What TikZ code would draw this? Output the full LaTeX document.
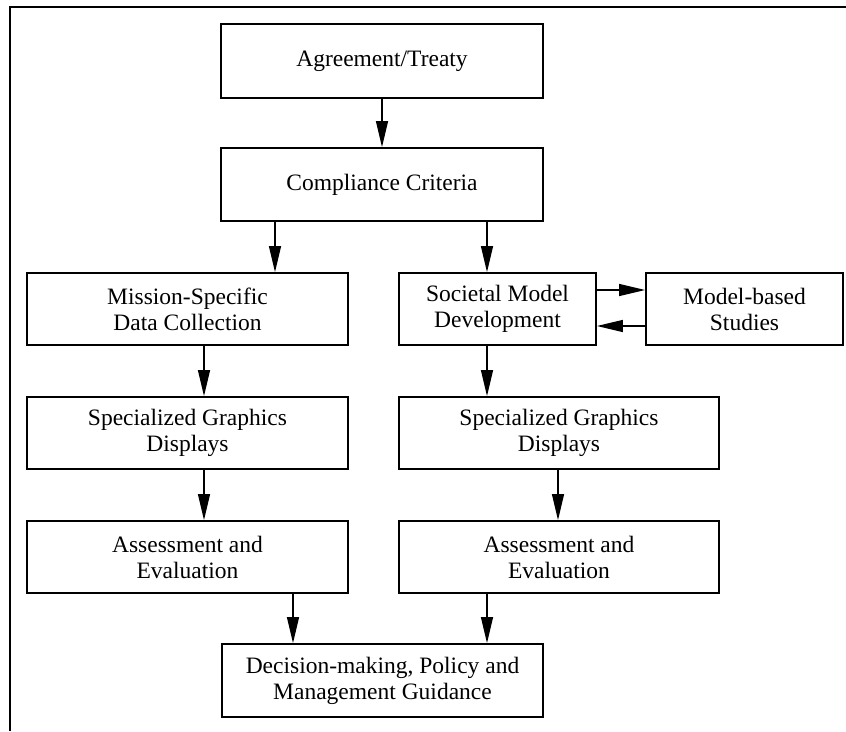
\documentclass[tikz,border=0pt]{standalone}
\usepackage{fontspec}
\setmainfont{Liberation Serif}
\usetikzlibrary{arrows.meta}

\tikzset{
  box/.style={draw, line width=1.8pt, align=center, inner sep=0pt,
              font=\fontsize{23.5}{26}\selectfont},
  arr/.style={line width=1.3pt, -{Triangle[length=26pt,width=12pt]}},
  frame/.style={line width=2pt}
}

\begin{document}
\begin{tikzpicture}[x=1pt,y=1pt]
  \useasboundingbox (0,0) rectangle (846,-731);

  % outer frame (top and left edges)
  \draw[frame] (10,-731) -- (10,-7) -- (846,-7);

  % boxes
  \node[box, minimum width=322pt, minimum height=74pt] (agr) at (382,-61)    {Agreement/Treaty};
  \node[box, minimum width=322pt, minimum height=73pt] (comp) at (382,-184.5) {Compliance Criteria};
  \node[box, minimum width=321pt, minimum height=72pt] (mis) at (187.5,-309)  {Mission-Specific\\Data Collection};
  \node[box, minimum width=197pt, minimum height=72pt] (soc) at (497.5,-309)  {Societal Model\\Development};
  \node[box, minimum width=197pt, minimum height=72pt] (mod) at (744.5,-309)  {Model-based\\Studies};
  \node[box, minimum width=321pt, minimum height=72pt] (spl) at (187.5,-433)  {Specialized Graphics\\Displays};
  \node[box, minimum width=320pt, minimum height=72pt] (spr) at (559,-433)    {Specialized Graphics\\Displays};
  \node[box, minimum width=321pt, minimum height=72pt] (asl) at (187.5,-557)  {Assessment and\\Evaluation};
  \node[box, minimum width=320pt, minimum height=72pt] (asr) at (559,-557)    {Assessment and\\Evaluation};
  \node[box, minimum width=321pt, minimum height=73pt] (dec) at (382.5,-680.5){Decision-making, Policy and\\Management Guidance};

  % vertical guide positions for the connectors
  \coordinate (xa) at (382,0);
  \coordinate (xb) at (275,0);
  \coordinate (xc) at (487,0);
  \coordinate (xd) at (204,0);
  \coordinate (xe) at (558,0);
  \coordinate (xf) at (293,0);
  \coordinate (ya) at (0,-290);
  \coordinate (yb) at (0,-326);

  % connectors
  \draw[arr] (agr.south -| xa) -- (comp.north -| xa);
  \draw[arr] (comp.south -| xb) -- (mis.north -| xb);
  \draw[arr] (comp.south -| xc) -- (soc.north -| xc);
  \draw[arr] (soc.east |- ya) -- (mod.west |- ya);
  \draw[arr] (mod.west |- yb) -- (soc.east |- yb);
  \draw[arr] (mis.south -| xd) -- (spl.north -| xd);
  \draw[arr] (soc.south -| xc) -- (spr.north -| xc);
  \draw[arr] (spl.south -| xd) -- (asl.north -| xd);
  \draw[arr] (spr.south -| xe) -- (asr.north -| xe);
  \draw[arr] (asl.south -| xf) -- (dec.north -| xf);
  \draw[arr] (asr.south -| xc) -- (dec.north -| xc);
\end{tikzpicture}
\end{document}
